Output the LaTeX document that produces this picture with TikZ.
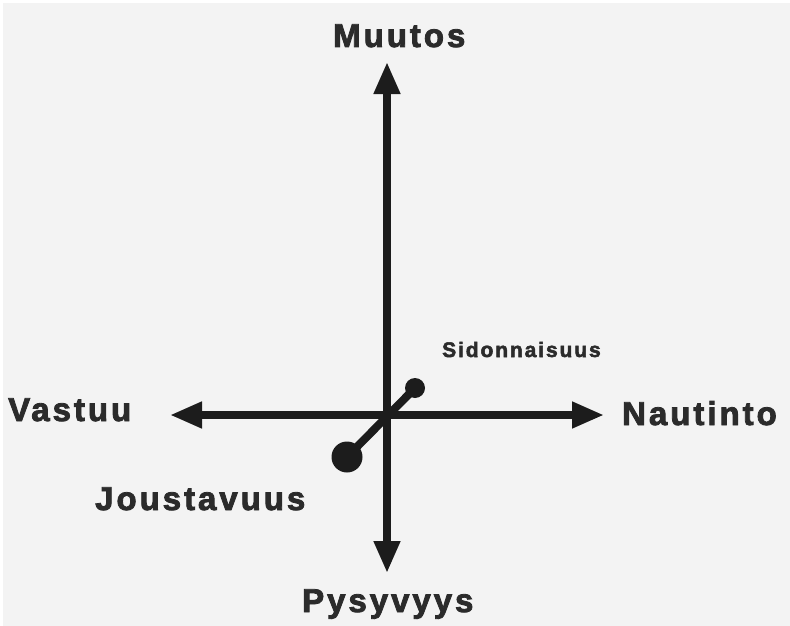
\documentclass[tikz,border=0pt]{standalone}
\usepackage{fontspec}
\setmainfont{Liberation Sans}
\usetikzlibrary{arrows.meta}
\definecolor{bg}{HTML}{F3F3F3}
\definecolor{ink}{HTML}{1C1C1C}
\definecolor{txt}{HTML}{2B2B2B}
\newfontfamily\labfont[LetterSpace=9,FakeBold=2.5]{Liberation Sans Bold}
\tikzset{
  axis/.style={draw=ink, line width=7.5pt, {Triangle[length=32pt,width=25pt]}-{Triangle[length=32pt,width=25pt]}},
  biglab/.style={anchor=base west, inner sep=0pt, text=txt, font=\labfont\fontsize{33}{36}\selectfont},
  smalllab/.style={anchor=base west, inner sep=0pt, text=txt, font=\labfont\fontsize{21}{24}\selectfont},
  knob/.style={circle, fill=ink, inner sep=0pt},
}
\begin{document}
\begin{tikzpicture}[x=1pt,y=-1pt]
\useasboundingbox (0,0) rectangle (790,626);
\fill[white] (0,0) rectangle (790,626);
\fill[bg] (3,3) rectangle (790,626);
% axis ends
\coordinate (top) at (387,62);
\coordinate (bot) at (387,573);
\coordinate (lft) at (170,415);
\coordinate (rgt) at (604,415);
% balls
\node[knob, minimum size=20pt] (up) at (415,388) {};
\node[knob, minimum size=31pt] (low) at (347,457) {};
\draw[axis] (bot) -- (top);
\draw[axis] (lft) -- (rgt);
\draw[draw=ink, line width=8pt] (low.center) -- (up.center);
% labels
\node[biglab] (muutos) at (333,47) {Muutos};
\node[biglab] (vastuu) at (8,421) {Vastuu};
\node[biglab] (nautinto) at (622,425) {Nautinto};
\node[biglab] (pysy) at (302,612) {Pysyvyys};
\node[biglab] (jousta) at (95,510) {Joustavuus};
\node[smalllab] (sidon) at (442,357) {Sidonnaisuus};
\end{tikzpicture}
\end{document}
